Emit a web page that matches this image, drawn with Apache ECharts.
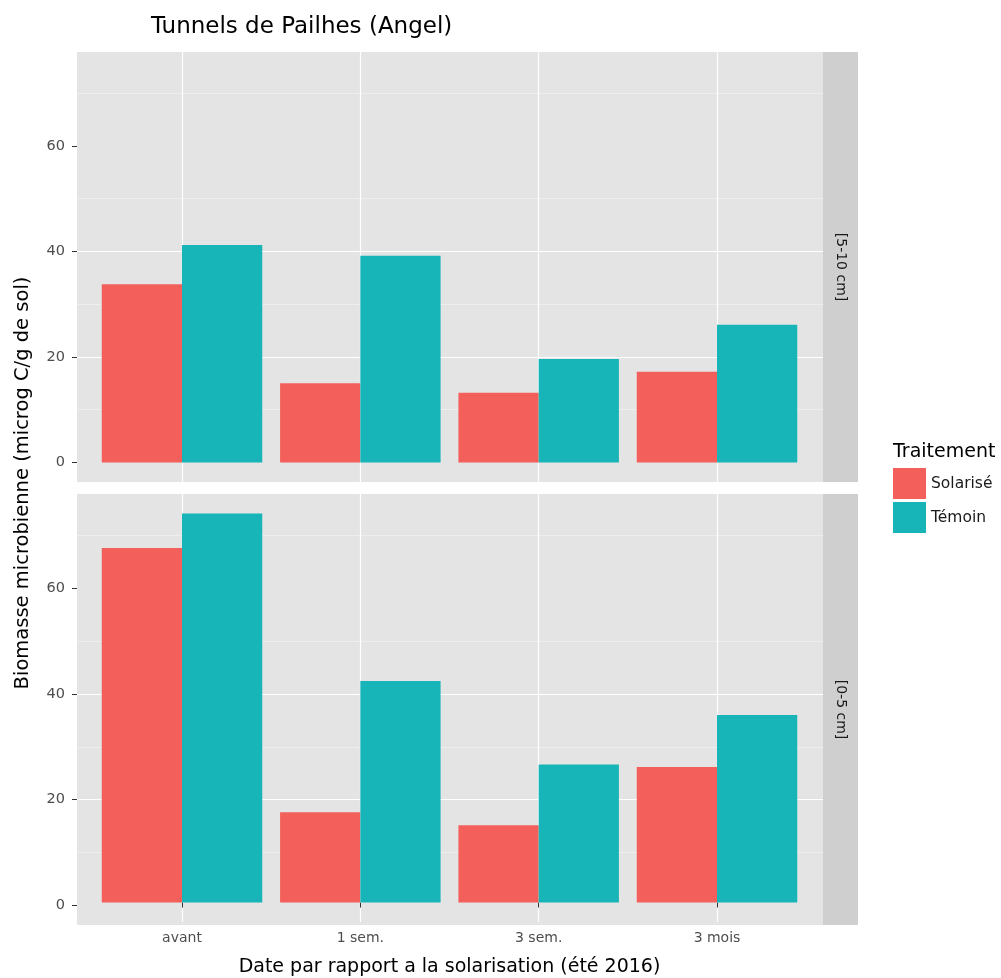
<!DOCTYPE html>
<html>
<head>
<meta charset="utf-8">
<script src="https://cdn.jsdelivr.net/npm/echarts@6/dist/echarts.min.js"></script>
<style>
  html, body { margin: 0; padding: 0; background: #fff; }
  #main { width: 1001px; height: 978px; }
</style>
</head>
<body>
<div id="main"></div>
<script>
// data
const categories = ['avant', '1 sem.', '3 sem.', '3 mois'];
const seriesNames = ['Solarisé', 'Témoin'];
const facetLabels = ['[5-10 cm]', '[0-5 cm]'];
const solarise510 = [33.8, 15.0, 13.2, 17.2];
const temoin510 = [41.2, 39.2, 19.6, 26.1];
const solarise05 = [67.5, 17.2, 14.7, 25.8];
const temoin05 = [74.1, 42.2, 26.3, 35.7];
const yTicks = [0, 20, 40, 60];

const FONT = 'DejaVu Sans';
const colors = ['#f35f5b', '#17b4b8'];
const yMin = -3.7, yMax = 77.8;

const chart = echarts.init(document.getElementById('main'));

const panels = [
  { top: 52, height: 430, data: [solarise510, temoin510], label: facetLabels[0] },
  { top: 494, height: 431, data: [solarise05, temoin05], label: facetLabels[1] }
];

const grid = [], xAxis = [], yAxis = [], series = [], graphic = [];
panels.forEach(function (p, i) {
  const last = i === panels.length - 1;
  // panel background + y axis
  grid.push({ left: 77, width: 746, top: p.top, height: p.height, show: true,
    backgroundColor: '#e4e4e4', borderWidth: 0 });
  // bars: x spans first to last category centre
  grid.push({ left: 182, width: 535, top: p.top, height: p.height });
  const bg = grid.length - 2, bar = grid.length - 1;

  xAxis.push({ type: 'value', gridIndex: bg, show: false, min: 0, max: 1 });
  xAxis.push({
    type: 'category', gridIndex: bar, data: categories, boundaryGap: false,
    axisLine: { show: false },
    axisTick: { show: last, length: 5, lineStyle: { color: '#333' } },
    axisLabel: { show: last, color: '#4d4d4d', fontFamily: FONT, fontSize: 14, margin: 9 },
    splitLine: { show: true, lineStyle: { color: '#ffffff', width: 1.2 } },
    name: last ? 'Date par rapport a la solarisation (été 2016)' : '',
    nameLocation: 'middle', nameGap: 36,
    nameTextStyle: { color: '#000', fontFamily: FONT, fontSize: 19 }
  });

  yAxis.push({
    type: 'value', gridIndex: bg, min: yMin, max: yMax,
    axisLine: { show: false },
    axisTick: { show: true, length: 5, customValues: yTicks, lineStyle: { color: '#333' } },
    axisLabel: { customValues: yTicks, color: '#4d4d4d', fontFamily: FONT, fontSize: 14.5, margin: 12 },
    splitLine: { show: true, showMinLine: false, showMaxLine: false,
      lineStyle: { color: '#ffffff', width: 1.2 } },
    minorTick: { show: false, splitNumber: 2 },
    minorSplitLine: { show: true, lineStyle: { color: '#f2f2f2', width: 0.7 } }
  });
  yAxis.push({ type: 'value', gridIndex: bar, min: yMin, max: yMax, show: false,
    splitLine: { show: false } });

  p.data.forEach(function (vals, k) {
    series.push({
      type: 'bar', name: seriesNames[k], xAxisIndex: bar, yAxisIndex: bar,
      data: vals, barWidth: '45%', barGap: '0%', clip: false,
      itemStyle: { color: colors[k] }, emphasis: { disabled: true }
    });
  });

  // facet strip
  graphic.push({ type: 'rect', shape: { x: 823, y: p.top, width: 35, height: p.height },
    style: { fill: '#cfcfcf' }, silent: true });
  graphic.push({ type: 'text', x: 840.5, y: p.top + p.height / 2, rotation: -Math.PI / 2,
    style: { text: p.label, fill: '#1a1a1a', font: '14px "' + FONT + '"',
      align: 'center', verticalAlign: 'middle' }, silent: true });
});

graphic.push({ type: 'text', x: 23, y: 483, rotation: Math.PI / 2,
  style: { text: 'Biomasse microbienne (microg C/g de sol)', fill: '#000',
    font: '19.5px "' + FONT + '"', align: 'center', verticalAlign: 'middle' }, silent: true });

const option = {
  animation: false,
  title: [
    { text: 'Tunnels de Pailhes (Angel)', left: 151, top: 16, padding: 0,
      textStyle: { color: '#000', fontFamily: FONT, fontSize: 23, fontWeight: 'normal' } },
    { text: 'Traitement', left: 893, top: 443, padding: 0,
      textStyle: { color: '#000', fontFamily: FONT, fontSize: 19, fontWeight: 'normal' } }
  ],
  legend: {
    data: seriesNames, orient: 'vertical', left: 893, top: 468, padding: 0,
    icon: 'rect', itemWidth: 33, itemHeight: 31, itemGap: 3, selectedMode: false,
    textStyle: { color: '#1a1a1a', fontFamily: FONT, fontSize: 15.5 }
  },
  grid: grid, xAxis: xAxis, yAxis: yAxis, series: series, graphic: graphic
};
chart.setOption(option);
</script>
</body>
</html>
